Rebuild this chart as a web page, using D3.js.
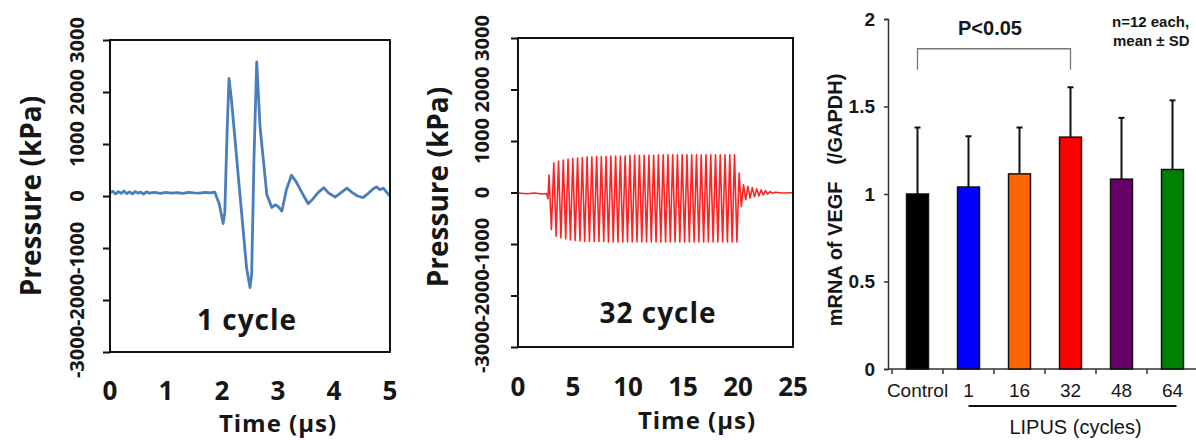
<!DOCTYPE html>
<html>
<head>
<meta charset="utf-8">
<script src="https://cdn.jsdelivr.net/npm/d3@7/dist/d3.min.js"></script>
<style>
  body { margin: 0; background: #fff; }
  svg { display: block; }
  .wave text { font-family: "Open Sans", sans-serif; font-weight: 700; fill: #161616; }
  .bars text { font-family: "Liberation Sans", Arial, sans-serif; fill: #161616; }
</style>
</head>
<body>
<div id="chart"></div>
<script>
// ---- data ----
var pressureTicks = [-3000, -2000, -1000, 0, 1000, 2000, 3000];
var timeTicks1 = [0, 1, 2, 3, 4, 5];
var timeTicks32 = [0, 5, 10, 15, 20, 25];

// 1 cycle pulse, [time us, pressure kPa]
var pulse1 = [
  [0, 60], [0.05, 90], [0.1, 40], [0.15, 85], [0.2, 50], [0.25, 95], [0.3, 45], [0.35, 80],
  [0.4, 40], [0.45, 85], [0.5, 55], [0.55, 75], [0.6, 35], [0.65, 80], [0.7, 55], [0.8, 70],
  [0.9, 50], [1.0, 70], [1.1, 55], [1.2, 65], [1.3, 50], [1.4, 70], [1.5, 60], [1.6, 55],
  [1.7, 70], [1.8, 60], [1.87, 75], [1.95, -150], [2.02, -530], [2.05, -320], [2.09, 1200],
  [2.125, 2260], [2.17, 1840], [2.32, 30], [2.44, -1390], [2.5, -1760], [2.53, -1500],
  [2.57, 680], [2.62, 2580], [2.68, 1320], [2.8, 30], [2.89, -220], [2.95, -170], [3.0, -200],
  [3.07, -290], [3.15, 120], [3.24, 400], [3.32, 280], [3.45, 20], [3.54, -150], [3.62, -60],
  [3.72, 70], [3.82, 160], [3.9, 60], [4.02, -20], [4.12, 60], [4.23, 150], [4.32, 70],
  [4.42, 0], [4.52, -30], [4.6, 40], [4.7, 140], [4.76, 175], [4.82, 120], [4.88, 150],
  [4.95, 60], [5.0, 0]
];

// 32 cycle burst: lead-in, peak / trough per cycle, ring-down
var burstLead = [[0, -10], [0.8, -25], [1.5, -10], [2.2, -30], [2.6, -20], [2.72, -120]];
var burstStart = 2.82, burstEnd = 19.9;
var burstHigh = [340, 570, 610, 630, 650, 660, 670, 680, 690, 690, 700, 700, 700, 710, 710,
  710, 710, 720, 720, 720, 720, 720, 720, 730, 730, 730, 730, 730, 730, 730, 730, 730, 730,
  730, 730, 730, 730, 730, 730, 730];
var burstLow = [-720, -850, -880, -900, -920, -930, -940, -950, -950, -950, -950, -950, -960,
  -960, -960, -960, -960, -960, -960, -960, -960, -960, -960, -960, -960, -960, -960, -960,
  -960, -960, -960, -960, -960, -960, -960, -960, -960, -960, -960, -960];
var burstTail = [
  [20.1, 380], [20.3, -270], [20.5, 150], [20.7, -140], [20.9, 120], [21.1, -110],
  [21.3, 95], [21.5, -85], [21.7, 70], [21.9, -65], [22.1, 50], [22.3, -45], [22.5, 35],
  [22.7, -30], [22.9, 20], [23.1, -15], [23.4, 5], [24, -10], [25, -5]
];

// VEGF mRNA bar chart
var categories = ["Control", "1", "16", "32", "48", "64"];
var vegfMean = [1.0, 1.04, 1.115, 1.325, 1.085, 1.14];
var vegfSD = [0.38, 0.29, 0.265, 0.285, 0.35, 0.395];
var barColors = ["#000000", "#0000ff", "#ff6600", "#ff0000", "#660066", "#008000"];
var vegfTicks = [0, 0.5, 1, 1.5, 2];

var svg = d3.select("#chart").append("svg")
  .attr("width", 1196).attr("height", 440);
svg.append("rect").attr("width", 1196).attr("height", 440).attr("fill", "#fff");

// burst as zig-zag through the peaks
var period = (burstEnd - burstStart) / (burstHigh.length - 0.5);
var burst = burstLead.slice();
burstHigh.forEach(function(v, i) {
  burst.push([burstStart + i * period, v]);
  burst.push([burstStart + (i + 0.5) * period, burstLow[i]]);
});
burst = burst.concat(burstTail);

function wavePanel(o) {
  var g = svg.append("g").attr("class", "wave");
  var x = d3.scaleLinear().domain([o.ticks[0], o.ticks[o.ticks.length - 1]]).range([o.x0, o.x1]);
  var y = d3.scaleLinear().domain([-3000, 3000]).range([o.y1, o.y0]);

  g.append("path")
    .datum(o.data)
    .attr("fill", "none")
    .attr("stroke", o.color)
    .attr("stroke-width", o.lw)
    .attr("stroke-linejoin", "round")
    .attr("d", d3.line().x(function(d) { return x(d[0]); }).y(function(d) { return y(d[1]); }));

  g.append("rect")
    .attr("x", o.x0).attr("y", o.y0)
    .attr("width", o.x1 - o.x0).attr("height", o.y1 - o.y0)
    .attr("fill", "none").attr("stroke", "#111").attr("stroke-width", 2);

  var ax = g.append("g").attr("transform", "translate(" + o.x0 + ",0)")
    .call(d3.axisLeft(y).tickValues(pressureTicks).tickSize(7).tickFormat(""));
  ax.select(".domain").remove();
  ax.selectAll("line").attr("stroke", "#111").attr("stroke-width", 2);

  g.selectAll(".ylab").data(pressureTicks).enter().append("text")
    .attr("transform", function(d) { return "translate(" + o.tickLabX + "," + y(d) + ") rotate(-90)"; })
    .attr("text-anchor", "middle").attr("dominant-baseline", "central")
    .attr("font-size", 20)
    .text(function(d) { return d; });

  g.selectAll(".xlab").data(o.ticks).enter().append("text")
    .attr("x", function(d) { return x(d); }).attr("y", o.tickLabY)
    .attr("text-anchor", "middle").attr("font-size", 26)
    .text(function(d) { return d; });

  g.append("text")
    .attr("transform", "translate(" + o.titleX + "," + o.titleY + ") rotate(-90)")
    .attr("text-anchor", "middle").attr("dominant-baseline", "central")
    .attr("font-size", 28)
    .text("Pressure (kPa)");

  g.append("text")
    .attr("x", o.timeX).attr("y", o.timeY)
    .attr("text-anchor", "middle").attr("font-size", 24).attr("letter-spacing", 1)
    .text("Time (\u03bcs)");

  g.append("text")
    .attr("x", o.noteX).attr("y", o.noteY)
    .attr("text-anchor", "middle").attr("font-size", 28).attr("letter-spacing", 1)
    .text(o.note);
}

wavePanel({
  data: pulse1, ticks: timeTicks1, color: "#4a7ebb", lw: 2.8,
  x0: 110, x1: 390, y0: 40, y1: 352,
  tickLabX: 76, tickLabY: 400, titleX: 30, titleY: 196,
  timeX: 278, timeY: 432, noteX: 247, noteY: 330, note: "1 cycle"
});

wavePanel({
  data: burst, ticks: timeTicks32, color: "#ff2222", lw: 1.6,
  x0: 518, x1: 793, y0: 38, y1: 347,
  tickLabX: 481, tickLabY: 396, titleX: 437, titleY: 187,
  timeX: 697, timeY: 429, noteX: 658, noteY: 323, note: "32 cycle"
});

// ---- bar chart ----
var bg = svg.append("g").attr("class", "bars");
var yb = d3.scaleLinear().domain([0, 2]).range([369, 19]);
var xb = d3.scaleBand().domain(categories).range([892, 1198]).paddingInner(0.57).paddingOuter(0.285);
var step = xb.step();

var yAxis = bg.append("g").attr("transform", "translate(888,0)")
  .call(d3.axisLeft(yb).tickValues(vegfTicks).tickSize(4).tickPadding(9).tickFormat(d3.format("")));
yAxis.select(".domain").attr("stroke", "#333").attr("stroke-width", 1.5);
yAxis.selectAll("line").attr("stroke", "#333").attr("stroke-width", 1.5);
yAxis.selectAll("text").attr("font-size", 19).attr("font-weight", 700)
  .attr("font-family", "Liberation Sans, Arial, sans-serif").attr("fill", "#161616");

bg.append("line")
  .attr("x1", 888).attr("x2", 1196).attr("y1", yb(0)).attr("y2", yb(0))
  .attr("stroke", "#333").attr("stroke-width", 1.5);
bg.selectAll(".xtick").data(categories).enter().append("line")
  .attr("x1", function(d) { return xb(d) - step * 0.285; })
  .attr("x2", function(d) { return xb(d) - step * 0.285; })
  .attr("y1", yb(0)).attr("y2", yb(0) + 5)
  .attr("stroke", "#333").attr("stroke-width", 1.5);

bg.selectAll(".bar").data(categories).enter().append("rect")
  .attr("x", function(d) { return xb(d); })
  .attr("y", function(d, i) { return yb(vegfMean[i]); })
  .attr("width", xb.bandwidth())
  .attr("height", function(d, i) { return yb(0) - yb(vegfMean[i]); })
  .attr("fill", function(d, i) { return barColors[i]; })
  .attr("stroke", "#111").attr("stroke-width", 1.5);

var eb = bg.selectAll(".err").data(categories).enter().append("g")
  .attr("transform", function(d) { return "translate(" + (xb(d) + xb.bandwidth() / 2) + ",0)"; });
eb.append("line")
  .attr("y1", function(d, i) { return yb(vegfMean[i]); })
  .attr("y2", function(d, i) { return yb(vegfMean[i] + vegfSD[i]); })
  .attr("stroke", "#111").attr("stroke-width", 2);
eb.append("line")
  .attr("x1", -3).attr("x2", 3)
  .attr("y1", function(d, i) { return yb(vegfMean[i] + vegfSD[i]); })
  .attr("y2", function(d, i) { return yb(vegfMean[i] + vegfSD[i]); })
  .attr("stroke", "#111").attr("stroke-width", 2);

bg.selectAll(".cat").data(categories).enter().append("text")
  .attr("x", function(d) { return xb(d) + xb.bandwidth() / 2; })
  .attr("y", 397).attr("text-anchor", "middle").attr("font-size", 19)
  .text(function(d) { return d; });

var c1 = xb("1") + xb.bandwidth() / 2, c64 = xb("64") + xb.bandwidth() / 2;
bg.append("line").attr("x1", c1).attr("x2", c64 + 4).attr("y1", 406).attr("y2", 406)
  .attr("stroke", "#111").attr("stroke-width", 2);
bg.append("text").attr("x", (c1 + c64) / 2 + 5).attr("y", 434)
  .attr("text-anchor", "middle").attr("font-size", 20).text("LIPUS (cycles)");

// significance bracket Control vs 32
var cc = xb("Control") + xb.bandwidth() / 2, c32 = xb("32") + xb.bandwidth() / 2;
bg.append("path")
  .attr("d", "M" + cc + "," + yb(1.71) + "V" + yb(1.83) + "H" + c32 + "V" + yb(1.71))
  .attr("fill", "none").attr("stroke", "#777").attr("stroke-width", 1.3);
bg.append("text").attr("x", (cc + c32) / 2 - 4).attr("y", 35)
  .attr("text-anchor", "middle").attr("font-size", 20).attr("font-weight", 700).text("P<0.05");

bg.append("text").attr("x", 1112).attr("y", 27).attr("font-size", 15).attr("font-weight", 700).text("n=12 each,");
bg.append("text").attr("x", 1113).attr("y", 46).attr("font-size", 15).attr("font-weight", 700).text("mean \u00b1 SD");

bg.append("text")
  .attr("transform", "translate(835,200) rotate(-90)")
  .attr("text-anchor", "middle").attr("dominant-baseline", "central")
  .attr("font-size", 20).attr("font-weight", 700)
  .attr("xml:space", "preserve").style("white-space", "pre")
  .text("mRNA of VEGF   (/GAPDH)");
</script>
</body>
</html>
